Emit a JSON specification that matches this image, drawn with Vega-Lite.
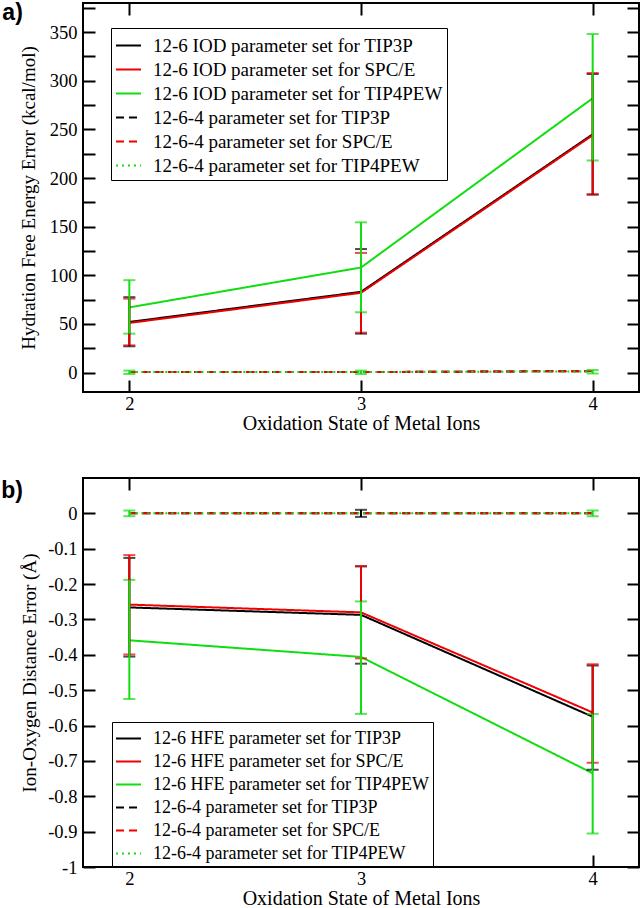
{
  "$schema": "https://vega.github.io/schema/vega-lite/v6.json",
  "padding": {"left": 0, "top": 1, "right": 0, "bottom": 0},
  "background": "white",
  "datasets": {
    "lineA": [
      {"series": "12-6 IOD parameter set for TIP3P", "ox": 2, "value": 52},
      {"series": "12-6 IOD parameter set for TIP3P", "ox": 3, "value": 83},
      {"series": "12-6 IOD parameter set for TIP3P", "ox": 4, "value": 245},
      {"series": "12-6 IOD parameter set for SPC/E", "ox": 2, "value": 51},
      {"series": "12-6 IOD parameter set for SPC/E", "ox": 3, "value": 82},
      {"series": "12-6 IOD parameter set for SPC/E", "ox": 4, "value": 244},
      {"series": "12-6 IOD parameter set for TIP4PEW", "ox": 2, "value": 67},
      {"series": "12-6 IOD parameter set for TIP4PEW", "ox": 3, "value": 108},
      {"series": "12-6 IOD parameter set for TIP4PEW", "ox": 4, "value": 282},
      {"series": "12-6-4 parameter set for TIP3P", "ox": 2, "value": 0.5},
      {"series": "12-6-4 parameter set for TIP3P", "ox": 3, "value": 0.5},
      {"series": "12-6-4 parameter set for TIP3P", "ox": 4, "value": 1.5},
      {"series": "12-6-4 parameter set for SPC/E", "ox": 2, "value": 0.5},
      {"series": "12-6-4 parameter set for SPC/E", "ox": 3, "value": 0.5},
      {"series": "12-6-4 parameter set for SPC/E", "ox": 4, "value": 1.5},
      {"series": "12-6-4 parameter set for TIP4PEW", "ox": 2, "value": 0.5},
      {"series": "12-6-4 parameter set for TIP4PEW", "ox": 3, "value": 0.5},
      {"series": "12-6-4 parameter set for TIP4PEW", "ox": 4, "value": 1.2}
    ],
    "errA": [
      {"series": "12-6 IOD parameter set for TIP3P", "ox": 2, "lo": 27, "hi": 77.5},
      {"series": "12-6 IOD parameter set for TIP3P", "ox": 3, "lo": 40, "hi": 127},
      {"series": "12-6 IOD parameter set for TIP3P", "ox": 4, "lo": 183, "hi": 307},
      {"series": "12-6 IOD parameter set for SPC/E", "ox": 2, "lo": 28, "hi": 76},
      {"series": "12-6 IOD parameter set for SPC/E", "ox": 3, "lo": 41, "hi": 123},
      {"series": "12-6 IOD parameter set for SPC/E", "ox": 4, "lo": 183, "hi": 308},
      {"series": "12-6 IOD parameter set for TIP4PEW", "ox": 2, "lo": 40, "hi": 95},
      {"series": "12-6 IOD parameter set for TIP4PEW", "ox": 3, "lo": 62, "hi": 154.5},
      {"series": "12-6 IOD parameter set for TIP4PEW", "ox": 4, "lo": 218, "hi": 348},
      {"series": "12-6-4 parameter set for TIP4PEW", "ox": 2, "lo": -1.5, "hi": 2},
      {"series": "12-6-4 parameter set for TIP4PEW", "ox": 3, "lo": -1.5, "hi": 2},
      {"series": "12-6-4 parameter set for TIP4PEW", "ox": 4, "lo": -1, "hi": 2.5}
    ],
    "lineB": [
      {"series": "12-6 HFE parameter set for TIP3P", "ox": 2, "value": -0.266},
      {"series": "12-6 HFE parameter set for TIP3P", "ox": 3, "value": -0.287},
      {"series": "12-6 HFE parameter set for TIP3P", "ox": 4, "value": -0.575},
      {"series": "12-6 HFE parameter set for SPC/E", "ox": 2, "value": -0.258},
      {"series": "12-6 HFE parameter set for SPC/E", "ox": 3, "value": -0.28},
      {"series": "12-6 HFE parameter set for SPC/E", "ox": 4, "value": -0.563},
      {"series": "12-6 HFE parameter set for TIP4PEW", "ox": 2, "value": -0.359},
      {"series": "12-6 HFE parameter set for TIP4PEW", "ox": 3, "value": -0.406},
      {"series": "12-6 HFE parameter set for TIP4PEW", "ox": 4, "value": -0.735},
      {"series": "12-6-4 parameter set for TIP3P", "ox": 2, "value": 0},
      {"series": "12-6-4 parameter set for TIP3P", "ox": 3, "value": 0},
      {"series": "12-6-4 parameter set for TIP3P", "ox": 4, "value": 0},
      {"series": "12-6-4 parameter set for SPC/E", "ox": 2, "value": 0},
      {"series": "12-6-4 parameter set for SPC/E", "ox": 3, "value": 0},
      {"series": "12-6-4 parameter set for SPC/E", "ox": 4, "value": 0},
      {"series": "12-6-4 parameter set for TIP4PEW", "ox": 2, "value": 0},
      {"series": "12-6-4 parameter set for TIP4PEW", "ox": 3, "value": 0},
      {"series": "12-6-4 parameter set for TIP4PEW", "ox": 4, "value": 0}
    ],
    "errB": [
      {"series": "12-6 HFE parameter set for TIP3P", "ox": 2, "lo": -0.405, "hi": -0.126},
      {"series": "12-6 HFE parameter set for TIP3P", "ox": 3, "lo": -0.425, "hi": -0.15},
      {"series": "12-6 HFE parameter set for TIP3P", "ox": 4, "lo": -0.725, "hi": -0.43},
      {"series": "12-6 HFE parameter set for SPC/E", "ox": 2, "lo": -0.399, "hi": -0.118},
      {"series": "12-6 HFE parameter set for SPC/E", "ox": 3, "lo": -0.41, "hi": -0.149},
      {"series": "12-6 HFE parameter set for SPC/E", "ox": 4, "lo": -0.705, "hi": -0.427},
      {"series": "12-6-4 parameter set for TIP3P", "ox": 3, "lo": -0.01, "hi": 0.01},
      {"series": "12-6 HFE parameter set for TIP4PEW", "ox": 2, "lo": -0.525, "hi": -0.188},
      {"series": "12-6 HFE parameter set for TIP4PEW", "ox": 3, "lo": -0.567, "hi": -0.249},
      {"series": "12-6 HFE parameter set for TIP4PEW", "ox": 4, "lo": -0.905, "hi": -0.567},
      {"series": "12-6-4 parameter set for TIP4PEW", "ox": 2, "lo": -0.008, "hi": 0.008},
      {"series": "12-6-4 parameter set for TIP4PEW", "ox": 4, "lo": -0.008, "hi": 0.008}
    ]
  },
  "vconcat": [
    {
      "width": 556,
      "height": 389,
      "title": {"text": "a)", "orient": "left", "anchor": "end", "angle": 0, "align": "right", "baseline": "top", "font": "Liberation Sans", "fontSize": 23, "fontWeight": "bold", "color": "black", "offset": -24},
      "layer": [
        {
          "data": {"name": "lineA"},
          "mark": {"type": "line", "strokeWidth": 2},
          "encoding": {
            "x": {"field": "ox", "type": "quantitative", "scale": {"domain": [1.8, 4.2], "nice": false, "zero": false},
                  "axis": {"orient": "bottom", "values": [2, 3, 4], "title": "Oxidation State of Metal Ions", "labelFont": "Liberation Serif", "labelPadding": 14, "titlePadding": 1}},
            "y": {"field": "value", "type": "quantitative", "scale": {"domain": [-20, 380], "nice": false, "zero": false},
                  "axis": {"orient": "left", "values": [0, 25, 50, 75, 100, 125, 150, 175, 200, 225, 250, 275, 300, 325, 350, 375],
                           "labelExpr": "datum.value % 50 == 0 ? datum.label : ''", "title": "Hydration Free Energy Error (kcal/mol)", "labelFont": "Liberation Serif", "labelPadding": 18, "titlePadding": 11}},
            "color": {"field": "series", "type": "nominal",
              "scale": {"domain": ["12-6 IOD parameter set for TIP3P", "12-6 IOD parameter set for SPC/E", "12-6 IOD parameter set for TIP4PEW", "12-6-4 parameter set for TIP3P", "12-6-4 parameter set for SPC/E", "12-6-4 parameter set for TIP4PEW"],
                        "range": ["#000000", "#ee0000", "#11dd11", "#000000", "#ee0000", "#11dd11"]},
              "legend": {"title": null, "orient": "none", "legendX": 28, "legendY": 25, "labelFont": "Liberation Serif", "labelFontSize": 19, "rowPadding": -0.5, "padding": 4}},
            "strokeDash": {"field": "series", "type": "nominal",
              "scale": {"domain": ["12-6 IOD parameter set for TIP3P", "12-6 IOD parameter set for SPC/E", "12-6 IOD parameter set for TIP4PEW", "12-6-4 parameter set for TIP3P", "12-6-4 parameter set for SPC/E", "12-6-4 parameter set for TIP4PEW"],
                        "range": [[1, 0], [1, 0], [1, 0], [8, 5], [8, 5], [2, 4]]},
              "legend": {"title": null, "orient": "none", "legendX": 28, "legendY": 25, "labelFont": "Liberation Serif", "labelFontSize": 19, "rowPadding": -0.5, "padding": 4}}
          }
        },
        {
          "data": {"name": "errA"},
          "mark": {"type": "errorbar", "ticks": {"size": 12}, "thickness": 2},
          "encoding": {
            "x": {"field": "ox", "type": "quantitative", "axis": null},
            "y": {"field": "lo", "type": "quantitative", "axis": null},
            "y2": {"field": "hi"},
            "color": {"field": "series", "type": "nominal", "legend": null}
          }
        },
        {
          "data": {"name": "lineA"},
          "mark": {"type": "point", "opacity": 0},
          "encoding": {
            "x": {"field": "ox", "type": "quantitative", "axis": {"orient": "top", "values": [2, 3, 4], "labels": false, "title": null}},
            "y": {"field": "value", "type": "quantitative", "axis": {"orient": "right", "values": [0, 25, 50, 75, 100, 125, 150, 175, 200, 225, 250, 275, 300, 325, 350, 375], "labels": false, "title": null}}
          }
        }
      ],
      "resolve": {"axis": {"x": "independent", "y": "independent"}}
    },
    {
      "width": 556,
      "height": 389,
      "title": {"text": "b)", "orient": "left", "anchor": "end", "angle": 0, "align": "right", "baseline": "top", "font": "Liberation Sans", "fontSize": 23, "fontWeight": "bold", "color": "black", "offset": -24, "dy": 3},
      "layer": [
        {
          "data": {"name": "lineB"},
          "mark": {"type": "line", "strokeWidth": 2},
          "encoding": {
            "x": {"field": "ox", "type": "quantitative", "scale": {"domain": [1.8, 4.2], "nice": false, "zero": false},
                  "axis": {"orient": "bottom", "values": [2, 3, 4], "title": "Oxidation State of Metal Ions", "labelFont": "Liberation Serif", "labelPadding": 14, "titlePadding": 1}},
            "y": {"field": "value", "type": "quantitative", "scale": {"domain": [-1, 0.1], "nice": false, "zero": false},
                  "axis": {"orient": "left", "values": [-1, -0.9, -0.8, -0.7, -0.6, -0.5, -0.4, -0.3, -0.2, -0.1, 0],
                           "labelExpr": "datum.value == 0 ? '0' : (datum.value < 0 ? '-' + format(-datum.value, '.1~f') : format(datum.value, '.1~f'))",
                           "title": "Ion-Oxygen Distance Error (Å)", "labelFont": "Liberation Serif", "labelPadding": 18, "titlePadding": 8}},
            "color": {"field": "series", "type": "nominal",
              "scale": {"domain": ["12-6 HFE parameter set for TIP3P", "12-6 HFE parameter set for SPC/E", "12-6 HFE parameter set for TIP4PEW", "12-6-4 parameter set for TIP3P", "12-6-4 parameter set for SPC/E", "12-6-4 parameter set for TIP4PEW"],
                        "range": ["#000000", "#ee0000", "#11dd11", "#000000", "#ee0000", "#11dd11"]},
              "legend": {"title": null, "orient": "none", "legendX": 29, "legendY": 244, "labelFont": "Liberation Serif", "labelFontSize": 18, "rowPadding": -3, "padding": 3}},
            "strokeDash": {"field": "series", "type": "nominal",
              "scale": {"domain": ["12-6 HFE parameter set for TIP3P", "12-6 HFE parameter set for SPC/E", "12-6 HFE parameter set for TIP4PEW", "12-6-4 parameter set for TIP3P", "12-6-4 parameter set for SPC/E", "12-6-4 parameter set for TIP4PEW"],
                        "range": [[1, 0], [1, 0], [1, 0], [8, 5], [8, 5], [2, 4]]},
              "legend": {"title": null, "orient": "none", "legendX": 29, "legendY": 244, "labelFont": "Liberation Serif", "labelFontSize": 18, "rowPadding": -3, "padding": 3}}
          }
        },
        {
          "data": {"name": "errB"},
          "mark": {"type": "errorbar", "ticks": {"size": 12}, "thickness": 2},
          "encoding": {
            "x": {"field": "ox", "type": "quantitative", "axis": null},
            "y": {"field": "lo", "type": "quantitative", "axis": null},
            "y2": {"field": "hi"},
            "color": {"field": "series", "type": "nominal", "legend": null}
          }
        },
        {
          "data": {"name": "lineB"},
          "mark": {"type": "point", "opacity": 0},
          "encoding": {
            "x": {"field": "ox", "type": "quantitative", "axis": {"orient": "top", "values": [2, 3, 4], "labels": false, "title": null}},
            "y": {"field": "value", "type": "quantitative", "axis": {"orient": "right", "values": [-1, -0.9, -0.8, -0.7, -0.6, -0.5, -0.4, -0.3, -0.2, -0.1, 0], "labels": false, "title": null}}
          }
        }
      ],
      "resolve": {"axis": {"x": "independent", "y": "independent"}}
    }
  ],
  "spacing": 41,
  "resolve": {"scale": {"color": "independent", "strokeDash": "independent"}, "legend": {"color": "independent", "strokeDash": "independent"}},
  "config": {
    "view": {"stroke": "black", "strokeWidth": 2},
    "style": {"guide-label": {"font": "Liberation Serif", "fill": "black"}, "guide-title": {"font": "Liberation Serif", "fill": "black"}},
    "axis": {"labelFont": "Liberation Serif", "titleFont": "Liberation Serif", "labelFontSize": 18.5, "titleFontSize": 20, "titleFontWeight": "normal",
             "labelColor": "black", "titleColor": "black", "tickColor": "black", "tickWidth": 2, "tickSize": -12, "domain": false, "grid": false},
    "axisY": {"titleFontSize": 19},
    "legend": {"labelFont": "Liberation Serif", "labelColor": "black", "symbolType": "stroke", "symbolSize": 625, "symbolStrokeWidth": 2,
               "labelOffset": 11, "strokeColor": "black", "fillColor": "white", "labelLimit": 0}
  }
}
